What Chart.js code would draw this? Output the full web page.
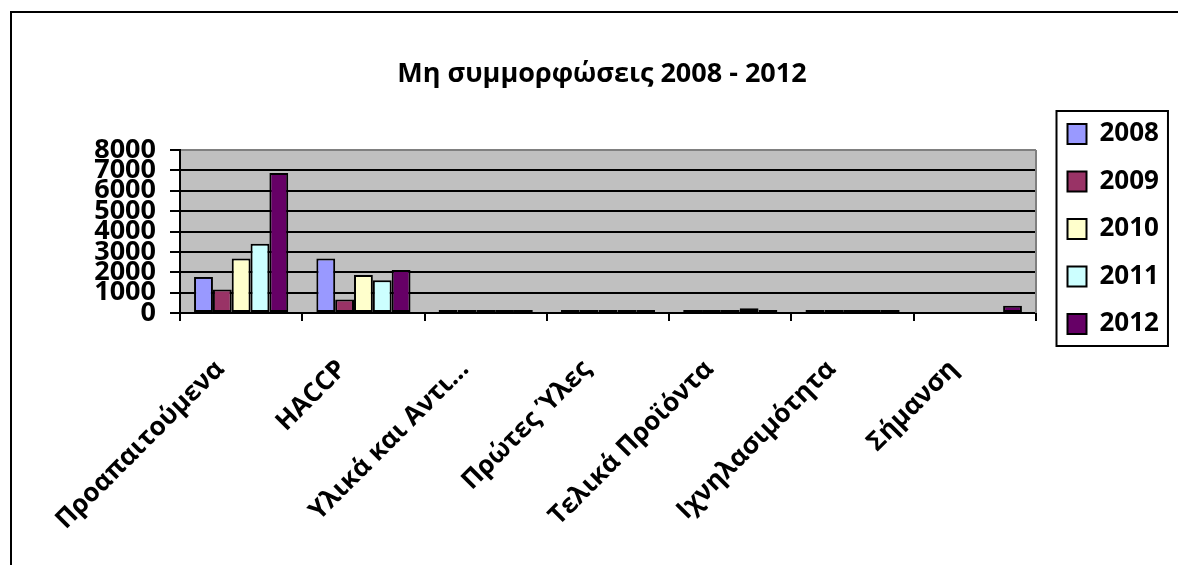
<!DOCTYPE html>
<html lang="el">
<head>
    <meta charset="UTF-8">
    <title>Μη συμμορφώσεις 2008 - 2012</title>
    <script src="https://cdn.jsdelivr.net/npm/chart.js"></script>
    <style>
        html, body {
            margin: 0;
            padding: 0;
            background: #ffffff;
            width: 1178px;
            height: 565px;
            overflow: hidden;
        }
        .frame {
            position: absolute;
            left: 10px;
            top: 11px;
            width: 1166px;
            height: 552px;
            border-left: 2px solid #000;
            border-top: 2px solid #000;
        }
        .wrap {
            position: absolute;
            left: 0;
            top: 0;
            width: 1178px;
            height: 565px;
        }
    </style>
</head>
<body>
    <div class="frame"></div>
    <div class="wrap"><canvas id="myChart"></canvas></div>

    <script>
        const categories = ['Προαπαιτούμενα', 'HACCP', 'Υλικά και Αντι...', 'Πρώτες Ύλες', 'Τελικά Προϊόντα', 'Ιχνηλασιμότητα', 'Σήμανση'];
        const years = ['2008', '2009', '2010', '2011', '2012'];

        const v2008 = [1770, 2680, 50, 50, 50, 50, null];
        const v2009 = [1150, 660, 20, 10, 10, 10, null];
        const v2010 = [2680, 1860, 80, 40, 80, 60, null];
        const v2011 = [3400, 1610, 150, 60, 230, 150, null];
        const v2012 = [6870, 2110, 120, 130, 120, 60, 350];

        const yMin = 0;
        const yMax = 8000;
        const yStep = 1000;

        const colors = ['#9999FF', '#993366', '#FFFFCC', '#CCFFFF', '#660066'];
        const FONT = '"Open Sans", sans-serif';

        // where Excel put the plot area
        const plotLeft = 180;
        const plotRight = 1036;
        const titleShift = 26;

        const series = [v2008, v2009, v2010, v2011, v2012];

        // grey plot area + its grey frame, like the old Excel charts
        const plotArea = {
            id: 'plotArea',
            beforeDraw(chart) {
                const { ctx, chartArea: a } = chart;
                ctx.save();
                ctx.fillStyle = '#C0C0C0';
                ctx.fillRect(a.left, a.top, a.right - a.left, a.bottom - a.top);
                ctx.restore();
            },
            beforeDatasetsDraw(chart) {
                const { ctx, chartArea: a } = chart;
                ctx.save();
                ctx.strokeStyle = '#808080';
                ctx.lineWidth = 2;
                ctx.beginPath();
                ctx.moveTo(a.right, a.top);
                ctx.lineTo(a.right, a.bottom);
                ctx.stroke();
                ctx.restore();
            }
        };

        // put the legend where Excel had it and draw the box round it
        const legendBox = {
            id: 'legendBox',
            afterLayout(chart) {
                const lg = chart.legend;
                const w = lg.right - lg.left;
                lg.left = chart.chartArea.right + 10;
                lg.right = lg.left + w;
                lg.top = 99.5;
            },
            afterDraw(chart) {
                const hb = chart.legend.legendHitBoxes;
                if (!hb || !hb.length) return;
                const first = hb[0];
                const last = hb[hb.length - 1];
                let right = 0;
                hb.forEach(b => { right = Math.max(right, b.left + b.width); });
                const { ctx } = chart;
                ctx.save();
                ctx.strokeStyle = '#000';
                ctx.lineWidth = 2;
                ctx.strokeRect(first.left - 11, first.top - 10, right - first.left + 20, last.top + last.height - first.top + 19);
                ctx.restore();
            }
        };

        const ctx = document.getElementById('myChart').getContext('2d');
        const myChart = new Chart(ctx, {
            type: 'bar',
            data: {
                labels: categories,
                datasets: years.map((y, i) => ({
                    label: y,
                    data: series[i],
                    backgroundColor: colors[i],
                    borderColor: '#000000',
                    borderWidth: 2,
                    borderSkipped: false,
                    minBarLength: 3,
                    categoryPercentage: 0.77,
                    barPercentage: 1.0
                }))
            },
            options: {
                responsive: true,
                maintainAspectRatio: false,
                animation: false,
                layout: { padding: { left: titleShift, right: 0, top: 0, bottom: 0 } },
                plugins: {
                    title: {
                        display: true,
                        text: 'Μη συμμορφώσεις 2008 - 2012',
                        color: '#000',
                        font: { family: FONT, size: 27, weight: 'bold', lineHeight: 1.2 },
                        padding: { top: 57.8, bottom: 59.8 }
                    },
                    legend: {
                        position: 'right',
                        align: 'start',
                        labels: {
                            color: '#000',
                            boxWidth: 19,
                            boxHeight: 20,
                            padding: 21.5,
                            font: { family: FONT, size: 26, weight: 'bold' }
                        }
                    },
                    tooltip: { enabled: false }
                },
                scales: {
                    x: {
                        grid: {
                            offset: true,
                            drawOnChartArea: false,
                            color: '#000',
                            lineWidth: 2,
                            tickLength: 8
                        },
                        border: { color: '#000', width: 2 },
                        ticks: {
                            autoSkip: false,
                            maxRotation: 45,
                            minRotation: 45,
                            color: '#000',
                            padding: 33,
                            labelOffset: -21,
                            font: { family: FONT, size: 26, weight: 'bold' }
                        },
                        afterFit(scale) { scale.height = 252; }
                    },
                    y: {
                        min: yMin,
                        max: yMax,
                        grid: {
                            color: c => (c.tick && c.tick.value === yMax ? '#808080' : '#000'),
                            lineWidth: 2,
                            tickColor: '#000',
                            tickLength: 10
                        },
                        border: { color: '#000', width: 2 },
                        ticks: {
                            stepSize: yStep,
                            autoSkip: false,
                            color: '#000',
                            padding: 14,
                            font: { family: FONT, size: 27, weight: 'bold', lineHeight: 1 },
                            callback: v => String(v)
                        },
                        afterFit(scale) {
                            scale.width = plotLeft - scale.chart.options.layout.padding.left;
                        }
                    }
                }
            },
            plugins: [plotArea, legendBox]
        });

        // Excel plot area ends at plotRight; the legend column fills the rest,
        // and the title is centred a bit right of the page centre
        const extra = Math.max(0, (1178 - plotRight) - myChart.legend.width);
        myChart.options.layout.padding.right = extra;
        myChart.options.layout.padding.left = titleShift + extra;
        myChart.update();
    </script>
</body>
</html>
